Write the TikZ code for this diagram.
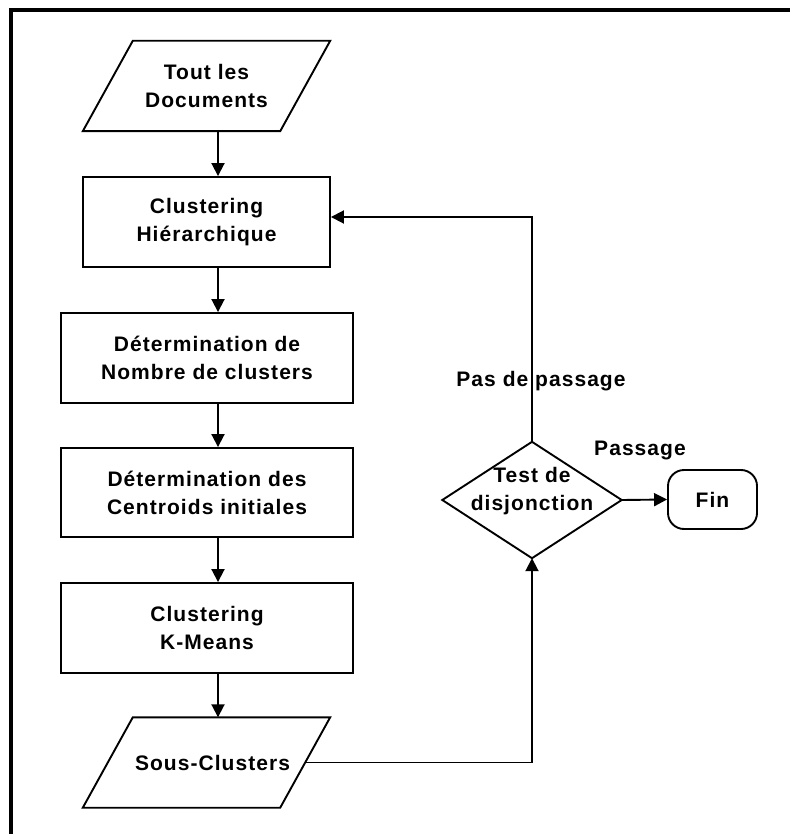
\documentclass[tikz,border=0pt]{standalone}
\usepackage{fontspec}
\newfontfamily\chartfont{Liberation Sans}[LetterSpace=5]
\usetikzlibrary{arrows.meta}

\begin{document}
\begin{tikzpicture}[x=1pt, y=-1pt,
  every node/.style={font=\chartfont\bfseries\fontsize{21}{28}\selectfont,
                     align=center, inner sep=0pt},
  procbox/.style={draw, line width=1.9pt, minimum width=292pt, minimum height=90pt},
  iobox/.style={minimum width=197pt, minimum height=90pt},
  outline/.style={line width=1.9pt, line join=miter},
  arr/.style={line width=1.9pt, -{Triangle[length=13pt,width=13pt]}},
  decision/.style={minimum width=179pt, minimum height=116pt},
  terminal/.style={draw, line width=1.9pt, rounded corners=16pt,
                   minimum width=89pt, minimum height=59pt}
]
\useasboundingbox (0,0) rectangle (789,834);

% outer frame
\draw[line width=3.5pt] (11,840) -- (11,10) -- (795,10);

% left column
\node[iobox] (docs) at (206.5,86) {Tout les\\Documents};
\draw[outline] ([xshift=25pt]docs.north west) -- ([xshift=25pt]docs.north east)
  -- ([xshift=-25pt]docs.south east) -- ([xshift=-25pt]docs.south west) -- cycle;

\node[procbox, minimum width=247pt] (clh) at (206.5,222) {Clustering\\Hiérarchique};
\node[procbox] (nbc) at (207,358) {Détermination de\\Nombre de clusters};
\node[procbox, minimum height=89pt] (cent) at (207,492.5) {Détermination des\\Centroids initiales};
\node[procbox] (km) at (207,628) {Clustering\\K-Means};

\node[iobox] (sous) at (206.5,762.5) {\hspace*{12pt}Sous-Clusters};
\draw[outline] ([xshift=25pt]sous.north west) -- ([xshift=25pt]sous.north east)
  -- ([xshift=-25pt]sous.south east) -- ([xshift=-25pt]sous.south west) -- cycle;

% decision and end
\node[decision] (test) at (532,500) {};
\draw[outline] (test.north) -- (test.east) -- (test.south) -- (test.west) -- cycle;
\node (testtxt) at ([yshift=9pt]test.center) {Test de\\disjonction};
\node[terminal] (fin) at (712.5,499.5) {Fin};

% labels
\node (nopass) at (541,381) {Pas de passage};
\node (pass) at (640,450) {Passage};

% connectors
\draw[arr] ([xshift=11.5pt]docs.south) -- ([xshift=11.5pt]clh.north);
\draw[arr] ([xshift=11.5pt]clh.south) -- ([xshift=11pt]nbc.north);
\draw[arr] ([xshift=11pt]nbc.south) -- ([xshift=11pt]cent.north);
\draw[arr] ([xshift=11pt]cent.south) -- ([xshift=11pt]km.north);
\draw[arr] ([xshift=11pt]km.south) -- ([xshift=11.5pt]sous.north);
\draw[arr] (sous.east) -| (test.south);
\draw[arr] (test.north) |- ([yshift=5pt]clh.east);
\draw[arr] (test.east) -- (fin.west);
\end{tikzpicture}
\end{document}
